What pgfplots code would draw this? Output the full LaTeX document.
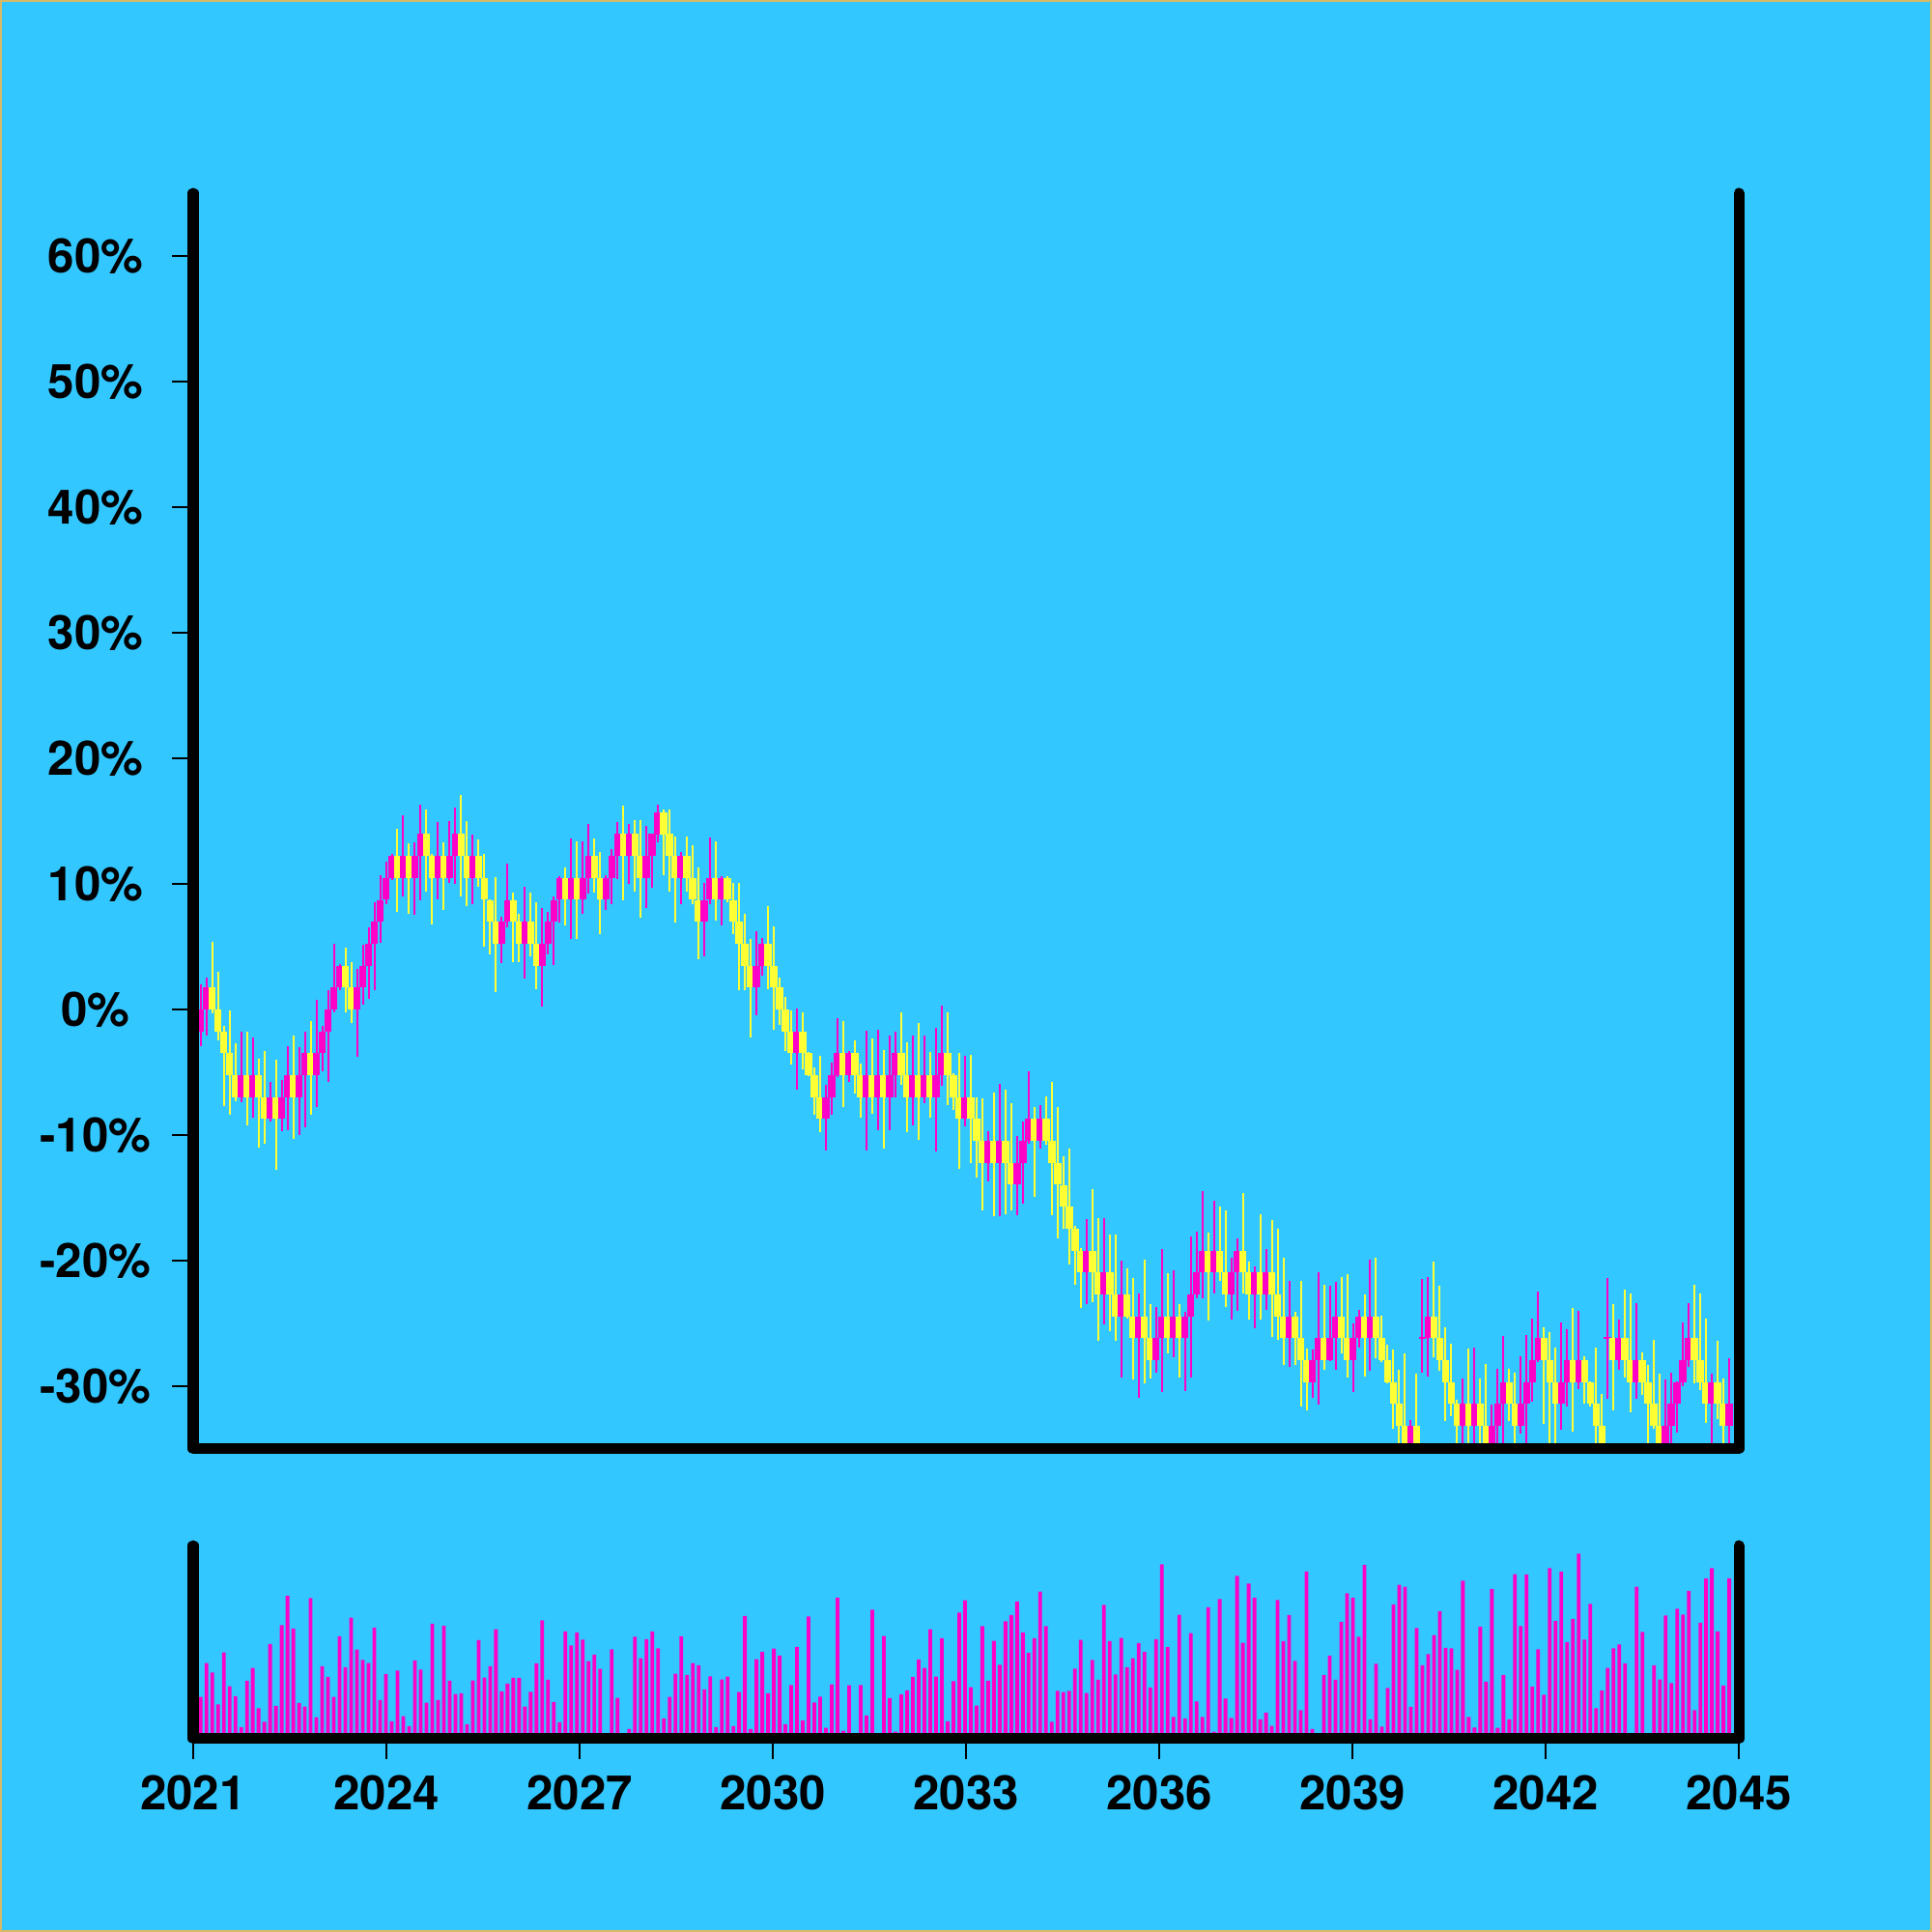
\documentclass[border=0pt]{standalone}
\usepackage{pgfplots}
\pgfplotsset{compat=1.18}
\usepackage{pgfplotstable}
\usepackage{fontspec}
\setmainfont{TeX Gyre Heros}
\definecolor{bg}{RGB}{51,199,255}
\definecolor{mag}{RGB}{255,0,200}
\definecolor{yel}{RGB}{255,255,51}
\definecolor{edgec}{RGB}{218,185,100}

% i = candle index, bl = body bottom (%), bh = body height, l = low, h = high,
% d = 1 up (magenta) / 0 down (yellow), v = volume (relative)
\pgfplotstableread{
i bl bh l h d v
0 -1.75 1.745 -2.9 2.0 1 21.7
1 0 1.745 -2.1 2.5 1 39.2
2 0 1.745 -0.3 5.4 0 34.3
3 -1.75 1.745 -2.5 3.0 0 17.8
4 -3.49 1.745 -7.7 -1.3 0 44.7
5 -5.24 1.745 -8.4 -0.1 0 27.2
6 -6.98 1.745 -7.3 -2.7 0 22.0
7 -6.98 1.745 -7.4 -1.8 1 6.0
8 -6.98 1.745 -9.2 -1.8 0 30.0
9 -6.98 1.745 -8.6 -2.2 1 36.7
10 -6.98 1.745 -11.0 -3.9 0 15.8
11 -8.73 1.745 -10.7 -3.3 0 8.8
12 -8.73 1.745 -8.9 -5.8 1 49.0
13 -8.73 1.745 -12.8 -4.0 0 17.0
14 -8.73 1.745 -9.7 -5.6 1 58.8
15 -6.98 1.745 -9.6 -2.9 1 74.0
16 -6.98 1.745 -10.3 -2.1 0 57.0
17 -6.98 1.745 -10.0 -3.0 1 18.5
18 -5.24 1.745 -9.4 -1.8 1 16.7
19 -5.24 1.745 -8.4 -0.9 0 72.8
20 -5.24 1.745 -7.8 0.75 1 11.2
21 -3.49 1.745 -4.9 -1.3 1 37.5
22 -1.75 1.745 -5.75 1.5 1 32.0
23 0 1.745 -0.2 5.2 1 21.7
24 1.75 1.745 1.5 3.6 1 53.0
25 1.75 1.745 -0.2 4.9 0 37.0
26 0 1.745 -1.1 3.8 0 62.7
27 0 1.745 -3.8 3.2 1 46.2
28 1.75 1.745 0.4 5.15 1 40.8
29 3.49 1.745 0.85 6.5 1 39.2
30 5.24 1.745 1.5 8.5 1 57.5
31 6.98 1.745 5.3 10.7 1 20.0
32 8.73 1.745 8.4 11.8 1 33.5
33 10.47 1.745 10.3 12.4 1 9.0
34 10.47 1.745 7.8 14.4 0 35.3
35 10.47 1.745 9.0 15.45 1 11.7
36 10.47 1.745 7.6 13.2 0 6.5
37 10.47 1.745 7.5 13.3 1 40.5
38 12.22 1.745 8.7 16.3 1 35.8
39 12.22 1.745 9.4 15.9 0 18.7
40 10.47 1.745 6.8 12.4 0 59.5
41 10.47 1.745 8.8 14.9 1 20.0
42 10.47 1.745 7.95 13.3 0 58.5
43 10.47 1.745 10.1 15.0 1 30.0
44 12.22 1.745 10.0 16.1 1 23.2
45 12.22 1.745 9.0 17.1 0 23.5
46 10.47 1.745 8.2 15.0 0 7.5
47 10.47 1.745 8.4 13.9 1 30.2
48 10.47 1.745 9.8 13.5 0 51.0
49 8.73 1.745 5.0 12.4 0 31.7
50 6.98 1.745 4.4 8.8 0 37.5
51 5.24 1.745 1.4 10.5 0 56.7
52 5.24 1.745 3.7 7.4 1 24.5
53 6.98 1.745 6.55 11.6 1 28.5
54 6.98 1.745 3.8 9.3 0 31.5
55 5.24 1.745 3.8 7.6 0 31.5
56 5.24 1.745 2.45 9.8 1 16.7
57 5.24 1.745 4.2 9.3 0 24.3
58 3.49 1.745 1.6 8.5 0 39.0
59 3.49 1.745 0.2 8.1 1 61.3
60 5.24 1.745 4.4 7.8 1 30.5
61 6.98 1.745 3.5 9.0 1 19.0
62 8.73 1.745 6.9 10.6 1 8.5
63 8.73 1.745 6.7 11.3 0 55.5
64 8.73 1.745 5.6 13.6 1 48.3
65 8.73 1.745 5.6 13.4 0 55.0
66 8.73 1.745 7.6 13.4 1 51.3
67 10.47 1.745 9.2 14.8 1 40.2
68 10.47 1.745 9.3 13.6 0 43.5
69 8.73 1.745 6.0 12.5 0 36.2
70 8.73 1.745 7.95 10.7 1 0
71 10.47 1.745 8.4 12.8 1 46.3
72 12.22 1.745 10.4 14.9 1 21.2
73 12.22 1.745 8.7 16.2 0 0
74 12.22 1.745 10.0 14.8 1 5.0
75 12.22 1.745 9.4 15.1 0 52.8
76 10.47 1.745 7.3 15.1 0 41.7
77 10.47 1.745 8.1 14.6 1 51.5
78 12.22 1.745 9.7 14.0 1 55.5
79 13.96 1.745 13.3 16.3 1 46.8
80 13.96 1.745 10.7 15.9 0 10.5
81 12.22 1.745 9.4 15.9 0 21.7
82 10.47 1.745 6.9 13.8 0 33.7
83 10.47 1.745 8.4 12.5 1 53.0
84 10.47 1.745 9.4 13.8 0 33.0
85 8.73 1.745 8.4 13.1 0 39.2
86 6.98 1.745 4.0 11.3 0 38.0
87 6.98 1.745 4.2 10.1 1 25.5
88 8.73 1.745 8.4 13.7 1 32.3
89 8.73 1.745 7.1 13.4 0 6.0
90 8.73 1.745 6.7 10.65 1 30.7
91 8.73 1.745 8.5 10.6 0 32.2
92 6.98 1.745 6.0 10.1 0 6.5
93 5.24 1.745 1.5 10.1 0 24.2
94 3.49 1.745 1.5 7.6 0 63.5
95 1.75 1.745 -2.2 5.6 0 5.0
96 1.75 1.745 -0.5 6.2 1 41.2
97 3.49 1.745 2.7 5.7 1 45.0
98 3.49 1.745 1.6 8.2 0 23.5
99 1.75 1.745 -1.6 6.6 0 46.7
100 0 1.745 -1.2 2.5 0 43.0
101 -1.75 1.745 -3.3 1.0 0 7.5
102 -3.49 1.745 -4.4 -0.1 0 27.8
103 -3.49 1.745 -6.4 0.1 1 47.5
104 -3.49 1.745 -4.8 -0.2 0 9.5
105 -5.24 1.745 -5.3 -3.4 0 63.3
106 -6.98 1.745 -8.4 -4.6 0 18.8
107 -8.73 1.745 -9.8 -3.7 0 21.8
108 -8.73 1.745 -11.2 -5.97 1 5.7
109 -6.98 1.745 -8.4 -4.2 1 28.2
110 -5.24 1.745 -5.4 -0.7 1 73.0
111 -5.24 1.745 -7.8 -0.9 0 4.2
112 -5.24 1.745 -5.8 -3.3 1 27.7
113 -5.24 1.745 -6.7 -2.5 0 0
114 -6.98 1.745 -8.6 -4.3 0 27.8
115 -6.98 1.745 -11.2 -1.7 1 12.0
116 -6.98 1.745 -8.3 -2.3 0 66.8
117 -6.98 1.745 -9.6 -1.6 1 0
118 -6.98 1.745 -11.1 -3.2 0 53.2
119 -6.98 1.745 -9.6 -2.1 1 21.0
120 -5.24 1.745 -7.0 -1.8 1 3.7
121 -5.24 1.745 -6.0 -0.2 0 23.0
122 -6.98 1.745 -9.8 -2.6 0 25.0
123 -6.98 1.745 -9.2 -2.1 1 32.0
124 -6.98 1.745 -10.4 -1.1 0 41.0
125 -6.98 1.745 -7.5 -2.1 1 36.7
126 -6.98 1.745 -8.6 -3.4 0 56.7
127 -6.98 1.745 -11.3 -1.5 1 32.2
128 -5.24 1.745 -6.1 0.3 1 52.0
129 -5.24 1.745 -7.6 -0.2 0 9.0
130 -6.98 1.745 -8.0 -5.1 0 29.8
131 -8.73 1.745 -12.7 -3.5 0 65.3
132 -8.73 1.745 -9.3 -3.7 1 71.7
133 -8.73 1.745 -12.2 -3.65 0 26.7
134 -10.47 1.745 -13.4 -7.0 0 17.2
135 -12.22 1.745 -16.0 -7.1 0 58.3
136 -12.22 1.745 -13.7 -9.7 1 30.0
137 -12.22 1.745 -16.5 -6.6 0 50.7
138 -12.22 1.745 -16.5 -5.9 1 38.3
139 -12.22 1.745 -16.3 -6.4 0 60.8
140 -13.96 1.745 -16.0 -7.5 0 64.0
141 -13.96 1.745 -16.4 -10.1 1 71.0
142 -12.22 1.745 -15.5 -8.9 1 55.0
143 -10.47 1.745 -10.7 -4.9 1 44.5
144 -10.47 1.745 -14.9 -7.8 0 52.0
145 -10.47 1.745 -11.1 -7.6 1 76.2
146 -10.47 1.745 -10.8 -6.9 0 58.3
147 -12.22 1.745 -16.4 -5.8 0 8.8
148 -13.96 1.745 -18.2 -7.8 0 24.8
149 -15.71 1.745 -17.5 -11.7 0 24.2
150 -17.45 1.745 -20.3 -11.1 0 24.8
151 -19.20 1.745 -21.9 -17.2 0 36.3
152 -20.94 1.745 -23.8 -19.0 0 51.2
153 -20.94 1.745 -23.5 -16.7 1 23.7
154 -20.94 1.745 -23.3 -14.3 0 40.8
155 -22.69 1.745 -26.4 -16.6 0 30.5
156 -22.69 1.745 -25.1 -16.6 1 69.3
157 -22.69 1.745 -25.6 -17.9 0 50.5
158 -24.43 1.745 -26.4 -17.9 0 33.3
159 -24.43 1.745 -29.3 -20.0 1 52.2
160 -24.43 1.745 -24.6 -20.6 0 37.0
161 -26.18 1.745 -29.5 -21.4 0 41.7
162 -26.18 1.745 -30.9 -22.6 1 49.5
163 -26.18 1.745 -29.8 -19.9 0 45.0
164 -27.92 1.745 -29.4 -23.5 0 26.5
165 -27.92 1.745 -28.9 -23.7 1 51.5
166 -26.18 1.745 -30.5 -19.1 1 90.3
167 -26.18 1.745 -27.4 -21.0 0 47.5
168 -26.18 1.745 -27.7 -20.8 1 11.3
169 -26.18 1.745 -29.3 -23.5 0 64.2
170 -26.18 1.745 -30.4 -24.1 1 10.5
171 -24.43 1.745 -29.3 -18.1 1 54.7
172 -22.69 1.745 -23.0 -17.7 1 19.3
173 -20.94 1.745 -23.0 -14.5 1 11.3
174 -20.94 1.745 -24.8 -17.8 0 68.0
175 -20.94 1.745 -22.6 -15.2 1 3.7
176 -20.94 1.745 -21.6 -15.7 0 72.3
177 -22.69 1.745 -23.7 -15.97 0 20.8
178 -22.69 1.745 -24.7 -19.8 1 10.8
179 -20.94 1.745 -24.0 -18.2 1 84.3
180 -20.94 1.745 -22.6 -14.6 0 49.7
181 -22.69 1.745 -24.7 -20.1 0 80.3
182 -22.69 1.745 -25.4 -20.5 1 73.0
183 -22.69 1.745 -24.7 -16.3 0 10.0
184 -22.69 1.745 -23.9 -19.1 1 13.5
185 -22.69 1.745 -26.1 -16.8 0 6.7
186 -24.43 1.745 -26.3 -17.5 0 71.8
187 -26.18 1.745 -28.3 -19.8 0 50.5
188 -26.18 1.745 -28.5 -21.6 1 64.0
189 -26.18 1.745 -28.3 -24.1 0 40.3
190 -27.92 1.745 -31.6 -21.6 0 14.8
191 -29.67 1.745 -31.9 -27.0 0 86.5
192 -29.67 1.745 -30.9 -27.1 1 5.0
193 -27.92 1.745 -31.5 -20.9 1 0
194 -27.92 1.745 -28.7 -21.9 0 33.0
195 -27.92 1.745 -28.0 -22.0 1 43.0
196 -26.18 1.745 -28.7 -21.7 1 30.5
197 -26.18 1.745 -27.4 -21.3 0 60.5
198 -27.92 1.745 -29.3 -21.1 0 75.3
199 -27.92 1.745 -30.5 -25.0 1 73.0
200 -26.18 1.745 -26.9 -23.9 1 52.8
201 -26.18 1.745 -29.2 -22.7 0 90.0
202 -26.18 1.745 -28.8 -19.9 1 10.0
203 -26.18 1.745 -27.8 -19.8 0 38.8
204 -27.92 1.745 -28.1 -24.4 0 6.3
205 -29.67 1.745 -29.8 -26.7 0 26.3
206 -31.41 1.745 -33.4 -27.1 0 69.5
207 -33.16 1.745 -34.7 -28.7 0 79.7
208 -34.90 1.745 -37 -27.4 0 78.7
209 -34.90 1.745 -37 -32.7 1 16.5
210 -34.90 1.745 -37 -29.0 0 57.3
211 -26.25 0.15 -28.9 -21.5 1 38.0
212 -26.18 1.745 -29.2 -21.3 1 43.8
213 -26.18 1.745 -27.7 -20.1 0 53.7
214 -27.92 1.745 -28.8 -22.0 0 66.0
215 -29.67 1.745 -32.8 -25.3 0 47.0
216 -31.41 1.745 -32.4 -26.6 0 46.8
217 -33.16 1.745 -37 -31.1 0 35.7
218 -33.16 1.745 -37 -29.4 1 81.8
219 -33.16 1.745 -37 -27.0 0 11.3
220 -33.16 1.745 -37 -26.9 1 5.8
221 -33.16 1.745 -37 -29.4 0 58.0
222 -34.90 1.745 -37 -28.2 0 29.5
223 -34.90 1.745 -37 -31.5 1 77.5
224 -33.16 1.745 -37 -28.6 1 5.7
225 -31.41 1.745 -37 -26.0 1 33.0
226 -31.41 1.745 -32.8 -28.6 0 10.0
227 -33.16 1.745 -37 -28.9 0 85.2
228 -33.16 1.745 -33.8 -27.6 1 58.3
229 -31.41 1.745 -37 -25.9 1 85.0
230 -29.67 1.745 -31.2 -24.6 1 27.0
231 -27.92 1.745 -28.1 -22.5 1 46.3
232 -27.92 1.745 -33.0 -25.3 0 22.8
233 -29.67 1.745 -37 -25.7 0 88.3
234 -31.41 1.745 -37 -26.9 0 61.0
235 -31.41 1.745 -33.5 -24.9 1 86.5
236 -29.67 1.745 -31.6 -25.5 1 50.0
237 -29.67 1.745 -33.6 -23.8 0 62.0
238 -29.67 1.745 -30.2 -24.0 1 95.8
239 -29.67 1.745 -31.4 -27.6 0 51.3
240 -31.41 1.745 -31.6 -29.6 0 69.8
241 -33.16 1.745 -37 -26.9 0 15.8
242 -34.90 1.745 -37 -30.6 0 25.0
243 -26.25 0.15 -31.0 -21.4 1 36.7
244 -27.92 1.745 -31.9 -23.5 0 46.8
245 -27.92 1.745 -28.7 -24.7 1 48.8
246 -27.92 1.745 -29.3 -22.3 0 39.0
247 -29.67 1.745 -32.1 -22.6 0 0
248 -29.67 1.745 -31.0 -23.4 1 78.7
249 -29.67 1.745 -30.7 -27.3 0 55.3
250 -31.41 1.745 -37 -28.3 0 0
251 -33.16 1.745 -33.4 -26.3 0 38.0
252 -34.90 1.745 -37 -29.0 0 30.7
253 -34.90 1.745 -37 -29.5 1 63.8
254 -33.16 1.745 -37 -28.9 1 28.8
255 -31.41 1.745 -33.7 -29.6 1 67.3
256 -29.67 1.745 -30.0 -24.9 1 64.3
257 -27.92 1.745 -28.5 -23.4 1 76.5
258 -27.92 1.745 -29.8 -21.9 0 14.8
259 -29.67 1.745 -30.3 -22.6 0 60.0
260 -31.41 1.745 -32.9 -24.6 0 83.0
261 -31.41 1.745 -37 -29.0 1 88.3
262 -31.41 1.745 -32.6 -26.4 0 55.5
263 -33.16 1.745 -37 -29.4 0 27.5
264 -33.16 1.745 -37 -27.8 1 83.0
}\candles

\pgfplotsset{
  frame3/.style={after end axis/.code={%
    \draw[black, line width=1.1mm, line cap=round, line join=round]
      (rel axis cs:0,1) -- (rel axis cs:0,0) -- (rel axis cs:1,0) -- (rel axis cs:1,1);}},
  common/.style={scale only axis, width=160mm, axis line style={draw=none},
    xmin=-1.285, xmax=265.651, tick align=outside, major tick length=2.15mm,
    tick style={black, line width=0.28mm},
    ticklabel style={font=\fontsize{14}{16}\selectfont\bfseries, text=black},
    frame3},
}

\begin{document}
\begin{tikzpicture}
\useasboundingbox (0,0) rectangle (200mm,200mm);
\fill[bg] (0,0) rectangle (200mm,200mm);
\draw[edgec, line width=0.2mm] (0.1mm,0.1mm) rectangle (199.9mm,199.9mm);

% price panel
\begin{axis}[common, at={(20mm,50mm)}, anchor=south west, height=130mm,
  ymin=-35, ymax=65, xtick=\empty, ytick pos=left,
  ytick={-30,-20,-10,0,10,20,30,40,50,60},
  yticklabels={-30\%,-20\%,-10\%,0\%,10\%,20\%,30\%,40\%,50\%,60\%},
  yticklabel style={anchor=center, xshift=-7.95mm},
  colormap={candle}{color(0)=(yel) color(1)=(mag)},
  point meta min=0, point meta max=1]
% wicks (low to high), coloured by direction
\addplot[point meta=explicit, line width=0.2mm, line cap=butt,
  quiver={u=0, v={\thisrow{h}-(\thisrow{l})}, colored}]
  table[x=i, y=l, meta=d] {\candles};
% bodies, drawn in time order
\addplot[point meta=explicit, line width=0.75mm, line cap=butt,
  quiver={u=0, v=\thisrow{bh}, colored}]
  table[x=i, y=bl, meta=d] {\candles};
\end{axis}

% volume panel
\begin{axis}[common, at={(20mm,20mm)}, anchor=south west, height=20mm,
  ymin=0, ymax=100, ytick=\empty, xtick pos=bottom,
  xtick={-1.285,32.082,65.449,98.816,132.183,165.55,198.917,232.284,265.651},
  xticklabels={2021,2024,2027,2030,2033,2036,2039,2042,2045},
  xticklabel style={anchor=center, yshift=-3.45mm}]
\addplot[ybar, bar width=0.38mm, fill=mag, draw=none] table[x=i, y=v] {\candles};
\end{axis}
\end{tikzpicture}
\end{document}
